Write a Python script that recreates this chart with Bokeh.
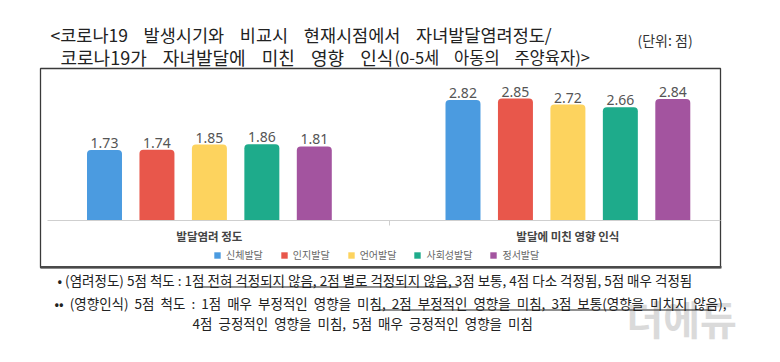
from bokeh.plotting import figure
from bokeh.models import (ColumnDataSource, Range1d, Label, BoxAnnotation, Legend, LegendItem)
from bokeh.core.properties import value
from bokeh.embed import file_html
from bokeh.resources import INLINE

# ---------------- data ----------------
categories = ["신체발달", "인지발달", "언어발달", "사회성발달", "정서발달"]
groups = ["발달염려 정도", "발달에 미친 영향 인식"]
concern = [1.73, 1.74, 1.85, 1.86, 1.81]
influence = [2.82, 2.85, 2.72, 2.66, 2.84]
colors = ["#4b9be0", "#e8574b", "#fdd35e", "#1eab8b", "#a3549f"]

title1 = "<코로나19 발생시기와 비교시 현재시점에서 자녀발달염려정도/"
title2a = "코로나19가 자녀발달에 미친 영향 인식"
title2b = "(0-5세 아동의 주양육자)>"
unit_text = "(단위: 점)"
note1 = "• (염려정도) 5점 척도 : 1점 전혀 걱정되지 않음, 2점 별로 걱정되지 않음, 3점 보통, 4점 다소 걱정됨, 5점 매우 걱정됨"
note2 = "•• (영향인식) 5점 척도 : 1점 매우 부정적인 영향을 미침, 2점 부정적인 영향을 미침, 3점 보통(영향을 미치지 않음),"
note3 = "4점 긍정적인 영향을 미침, 5점 매우 긍정적인 영향을 미침"
watermark = "더에듀"

# ---------------- layout ----------------
W, H = 764, 346
Y_BASE = 0.2          # value axis start
PX_PER_UNIT = 46.0
BASE_PX = 126         # baseline, px from bottom
SLOT_PX = 52.45
FIRST_PX = 104
G_OFF = 6.835         # slot offset of 2nd group
BAR_W = 0.667

y0 = Y_BASE - BASE_PX / PX_PER_UNIT
x0 = -FIRST_PX / SLOT_PX

p = figure(width=W, height=H, output_backend="svg", toolbar_location=None,
           x_range=Range1d(x0, x0 + W / SLOT_PX),
           y_range=Range1d(y0, y0 + H / PX_PER_UNIT),
           min_border=0, title=None)
p.axis.visible = False
p.grid.visible = False
p.outline_line_color = None
p.background_fill_color = "white"
p.border_fill_color = "white"


def wide(t, n):
    return t.replace(" ", " " + "\u00a0" * n)


def sbox(l, r, t, b, color, alpha=1.0, line=None, lw=1.0):
    p.add_layout(BoxAnnotation(left=l, right=r, top=t, bottom=b,
                               left_units="screen", right_units="screen",
                               top_units="screen", bottom_units="screen",
                               fill_color=color, fill_alpha=alpha,
                               line_color=line, line_alpha=1 if line else 0,
                               line_width=lw))


# chart box
sbox(40, 720, 278, 79, "white", alpha=0, line="#3a3a3a", lw=1.3)
sbox(40, 721, 80.5, 78, "#4a4a4a")
# baseline + separator tick
sbox(47, 720, 126.6, 125.6, "#cfcfcf")
sbox(388.5, 389.5, 126, 121, "#cfcfcf")

items = []
for i, cat in enumerate(categories):
    src = ColumnDataSource(dict(x=[i, G_OFF + i], top=[concern[i], influence[i]],
                                lab=[f"{concern[i]:.2f}", f"{influence[i]:.2f}"]))
    r = p.vbar(x="x", top="top", bottom=Y_BASE, width=BAR_W, source=src,
               fill_color=colors[i], line_color=None, border_radius=(4, 4, 0, 0))
    p.text(x="x", y="top", text="lab", source=src, text_align="center",
           text_baseline="alphabetic", y_offset=-7, text_font=value("Noto Sans"),
           text_font_size="14px", text_color="#555555")
    items.append(LegendItem(label=cat, renderers=[r]))

legend = Legend(items=items, orientation="horizontal", location=(213, 84),
                glyph_width=8, glyph_height=8, label_height=10, label_standoff=5,
                spacing=17, padding=0, margin=0, border_line_color=None,
                background_fill_alpha=0, label_text_font="Noto Sans CJK KR",
                label_text_font_size="10px", label_text_color="#666666")
p.add_layout(legend, "center")

# group labels
for gi, g in enumerate(groups):
    p.add_layout(Label(x=2 + gi * G_OFF, y=111, y_units="screen", text=g,
                       text_align="center", text_baseline="middle",
                       text_font="Noto Sans CJK KR", text_font_size="11.5px",
                       text_font_style="bold", text_color="#444444"))


def lab(x, y, t, size, color="#222222", align="left", baseline="alphabetic", style="normal"):
    p.add_layout(Label(x=x, y=y, x_units="screen", y_units="screen", text=t,
                       text_align=align, text_baseline=baseline,
                       text_font="Noto Sans CJK KR", text_font_size=size,
                       text_font_style=style, text_color=color))


# titles
lab(50, 312, wide(title1, 3), "17.5px")
lab(60, 290, wide(title2a, 3), "18px")
lab(394, 290, wide(title2b, 3), "16.5px")
lab(637, 307, unit_text, "14px", color="#333333", baseline="middle")

# watermark
lab(626, 29, watermark, "40px", color="#dadada", baseline="middle", style="bold")

# footnotes
lab(57, 67, note1, "13.5px", baseline="middle")
lab(54, 44, wide(note2, 1), "13.5px", baseline="middle")
lab(192, 24, wide(note3, 1), "13.5px", baseline="middle")

# underlines in the footnotes
sbox(197, 458, 60, 59, "#222222")
sbox(377, 714, 37, 36, "#222222")

open("out.html", "w").write(file_html(p, INLINE))
